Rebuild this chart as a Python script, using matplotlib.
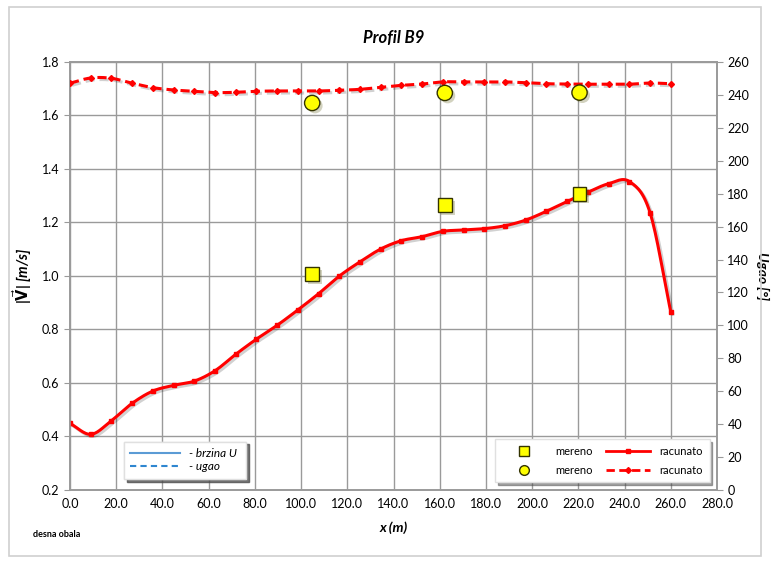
import numpy as np
import matplotlib.pyplot as plt
import matplotlib.patheffects as pe
from matplotlib.lines import Line2D
from matplotlib.patches import Rectangle

plt.rcParams['font.family'] = ['Lato', 'DejaVu Sans']

# racunato (computed) profile
x_calc = [0.0, 9.0, 17.9, 26.9, 35.9, 44.8, 53.8, 62.8, 71.7, 80.7,
          89.7, 98.6, 107.6, 116.6, 125.5, 134.5, 143.4, 152.4, 161.4, 170.3,
          179.3, 188.3, 197.2, 206.2, 215.2, 224.1, 233.1, 242.1, 251.0, 260.0]
v_calc = [0.449, 0.408, 0.459, 0.524, 0.570, 0.591, 0.607, 0.646, 0.707, 0.764,
          0.816, 0.873, 0.934, 1.000, 1.053, 1.101, 1.132, 1.147, 1.167, 1.172,
          1.177, 1.188, 1.209, 1.242, 1.279, 1.313, 1.345, 1.353, 1.237, 0.865]
ugao_calc = [247.1, 250.3, 250.1, 247.1, 244.4, 243.0, 242.2, 241.4, 241.6, 242.2,
             242.4, 242.4, 242.4, 242.8, 243.4, 244.6, 245.8, 246.6, 247.9, 247.9,
             247.9, 247.9, 247.4, 246.8, 246.6, 246.5, 246.5, 246.5, 247.2, 246.8]

# mereno (measured)
x_mer = [104.8, 162.2, 220.5]
v_mer = [1.007, 1.265, 1.308]
ugao_mer = [235.1, 241.2, 241.4]


def smooth(x, y, n=16):
    # Catmull-Rom curve through the points (like Excel "smoothed line")
    x = np.asarray(x, float)
    y = np.asarray(y, float)
    out = []
    for p in (x, y):
        q = np.r_[2 * p[0] - p[1], p, 2 * p[-1] - p[-2]]
        p0, p1, p2, p3 = q[:-3], q[1:-2], q[2:-1], q[3:]
        t = np.linspace(0, 1, n, endpoint=False)[:, None]
        c = 0.5 * (2 * p1 + (-p0 + p2) * t + (2 * p0 - 5 * p1 + 4 * p2 - p3) * t ** 2
                   + (-p0 + 3 * p1 - 3 * p2 + p3) * t ** 3)
        out.append(np.r_[c.T.ravel(), p[-1]])
    return out


shadow = [pe.SimpleLineShadow(offset=(1.5, -1.5), alpha=0.18), pe.Normal()]
red = '#ff0000'
grid_c = '#9a9a9a'

fig = plt.figure(figsize=(7.71, 5.63), dpi=100)
fig.patches.append(Rectangle((0.012, 0.012), 0.975, 0.975, transform=fig.transFigure,
                             fill=False, edgecolor='#d0d0d0', lw=1.2))
ax = fig.add_axes([0.0908, 0.1297, 0.8392, 0.7602])
ax2 = ax.twinx()

# velocity
sx, sy = smooth(x_calc, v_calc)
ax.plot(sx, sy, color=red, lw=2.2, path_effects=shadow, zorder=3)
ax.plot(x_calc, v_calc, 's', color=red, ms=3.5, zorder=4)
ax.plot(x_mer, v_mer, 's', color='#ffff00', mec='#333300', mew=1, ms=10, zorder=5,
        path_effects=[pe.SimplePatchShadow(offset=(2, -2), alpha=0.25), pe.Normal()])

# angle
sx, sy = smooth(x_calc, ugao_calc)
ax2.plot(sx, sy, color=red, lw=2.2, ls=(0, (3, 1.6)), path_effects=shadow, zorder=3)
ax2.plot(x_calc, ugao_calc, 'D', color=red, ms=3, zorder=4)
ax2.plot(x_mer, ugao_mer, 'o', color='#ffff00', mec='#333300', mew=1, ms=11, zorder=5,
         path_effects=[pe.SimplePatchShadow(offset=(2, -2), alpha=0.25), pe.Normal()])

ax.set_xlim(0, 280)
ax.set_ylim(0.2, 1.8)
ax2.set_ylim(0, 260)
ax.set_xticks(np.arange(0, 281, 20))
ax.set_xticklabels([f'{v:.1f}' for v in np.arange(0, 281, 20)])
ax.set_yticks(np.arange(0.2, 1.81, 0.2))
ax.set_yticklabels([f'{v:.1f}' for v in np.arange(0.2, 1.81, 0.2)])
ax2.set_yticks(np.arange(0, 261, 20))

ax.grid(True, color=grid_c, lw=1)
ax.set_axisbelow(True)
for a in (ax, ax2):
    for s in a.spines.values():
        s.set_color(grid_c)
        s.set_linewidth(1.2)
    a.tick_params(colors='#000000', labelsize=9, length=4, color=grid_c)
ax.tick_params(axis='x', length=0, pad=6)

ax.set_title('Profil B9', fontsize=12, fontweight='bold', style='italic', pad=14)
ax.set_xlabel('x (m)', fontsize=10, fontweight='bold', style='italic', labelpad=8)
ax.set_ylabel(r'|$\vec{\mathbf{V}}$| [m/s]', fontsize=10.5, fontweight='bold',
              style='italic', labelpad=6)
ax2.set_ylabel('Ugao [°]', fontsize=10, fontweight='bold', style='italic',
               rotation=270, labelpad=14)
fig.text(0.043, 0.046, 'desna obala', fontsize=6.5, fontweight='bold')

# legends
h1 = [Line2D([], [], color='#5b9bd5', lw=1.5),
      Line2D([], [], color='#2e86d0', lw=1.5, ls=(0, (3, 2)))]
leg1 = ax.legend(h1, ['- brzina U', '- ugao'], loc='lower left',
                 bbox_to_anchor=(0.074, 0.012, 0.207, 0.09), mode='expand',
                 fancybox=False, shadow=True, edgecolor='#e0e0e0',
                 prop={'size': 8.5, 'style': 'italic'}, handlelength=4.2,
                 labelspacing=0.2, borderpad=0.55)
ax.add_artist(leg1)

h2 = [Line2D([], [], ls='none', marker='s', color='#ffff00', mec='#333300', ms=7),
      Line2D([], [], ls='none', marker='o', color='#ffff00', mec='#333300', ms=7),
      Line2D([], [], color=red, lw=2, marker='s', ms=3.5),
      Line2D([], [], color=red, lw=2, ls=(0, (3, 1.6)), marker='D', ms=3)]
leg2 = ax2.legend(h2, ['mereno', 'mereno', 'racunato', 'racunato'], ncol=2,
                  loc='lower left', bbox_to_anchor=(0.649, 0.005, 0.348, 0.095),
                  mode='expand', fancybox=False, shadow=True, edgecolor='#e0e0e0',
                  prop={'size': 8}, handlelength=4, labelspacing=0.7,
                  borderpad=0.6, columnspacing=1.0)
leg2.set_zorder(10)

fig.savefig('out.png', dpi=100)
